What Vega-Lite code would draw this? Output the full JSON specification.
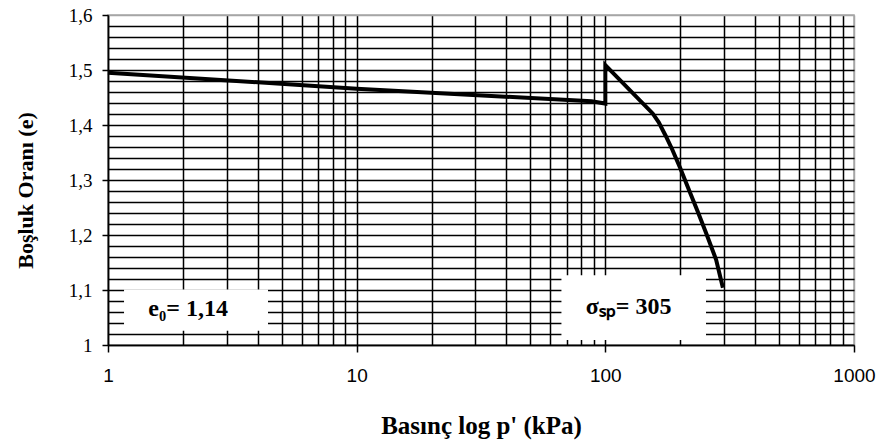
{
  "$schema": "https://vega.github.io/schema/vega-lite/v6.json",
  "width": 746,
  "height": 330,
  "autosize": "none",
  "padding": {"left": 108, "top": 15, "right": 25, "bottom": 101},
  "background": "white",
  "config": {"view": {"stroke": "#a6a6a6", "strokeWidth": 1.5}},
  "datasets": {
    "curve": [
      {"i": 0, "p": 1, "e": 1.495},
      {"i": 1, "p": 10, "e": 1.466},
      {"i": 2, "p": 88, "e": 1.443},
      {"i": 3, "p": 100, "e": 1.439},
      {"i": 4, "p": 100, "e": 1.509},
      {"i": 5, "p": 155, "e": 1.421},
      {"i": 6, "p": 164, "e": 1.405},
      {"i": 7, "p": 175, "e": 1.38},
      {"i": 8, "p": 186, "e": 1.355},
      {"i": 9, "p": 200, "e": 1.322},
      {"i": 10, "p": 217, "e": 1.282},
      {"i": 11, "p": 235, "e": 1.243},
      {"i": 12, "p": 254, "e": 1.204},
      {"i": 13, "p": 279, "e": 1.155},
      {"i": 14, "p": 297, "e": 1.104}
    ],
    "boxes": [
      {"p": 1.16, "p2": 4.4, "e": 1.026, "e2": 1.101},
      {"p": 66.6, "p2": 254, "e": 1.009, "e2": 1.127}
    ],
    "notes": [
      {"p": 2.1, "e": 1.065, "label": "e₀= 1,14"},
      {"p": 124, "e": 1.069, "label": "σₛₚ= 305"}
    ]
  },
  "encoding": {
    "x": {
      "field": "p",
      "type": "quantitative",
      "scale": {"type": "log", "domain": [1, 1000], "nice": false},
      "axis": {
        "title": "Basınç log p' (kPa)",
        "values": [1, 2, 3, 4, 5, 6, 7, 8, 9, 10, 20, 30, 40, 50, 60, 70, 80, 90, 100, 200, 300, 400, 500, 600, 700, 800, 900, 1000],
        "grid": true,
        "gridColor": {"condition": {"test": "datum.value >= 999", "value": "#a6a6a6"}, "value": "black"},
        "gridWidth": 1.5,
        "domainColor": "black",
        "domainWidth": 1.5,
        "tickColor": "black",
        "tickWidth": 1.5,
        "tickSize": 7,
        "tickOpacity": {"condition": {"test": "abs(log(datum.value)/LN10 - round(log(datum.value)/LN10)) < 0.001", "value": 1}, "value": 0},
        "labelExpr": "abs(log(datum.value)/LN10 - round(log(datum.value)/LN10)) < 0.001 ? format(datum.value, 'd') : ''",
        "labelOverlap": false,
        "labelFlush": false,
        "labelFont": "Liberation Sans",
        "labelFontSize": 19,
        "labelColor": "black",
        "labelPadding": 14,
        "titleFont": "Liberation Serif",
        "titleFontSize": 25,
        "titleFontWeight": "bold",
        "titleColor": "black",
        "titleY": 88,
        "titleBaseline": "alphabetic"
      }
    },
    "y": {
      "field": "e",
      "type": "quantitative",
      "scale": {"domain": [1, 1.6], "nice": false, "zero": false},
      "axis": {
        "title": "Boşluk Oranı (e)",
        "values": [1, 1.02, 1.04, 1.06, 1.08, 1.1, 1.12, 1.14, 1.16, 1.18, 1.2, 1.22, 1.24, 1.26, 1.28, 1.3, 1.32, 1.34, 1.36, 1.38, 1.4, 1.42, 1.44, 1.46, 1.48, 1.5, 1.52, 1.54, 1.56, 1.58, 1.6],
        "grid": true,
        "gridColor": {"condition": {"test": "datum.value >= 1.599", "value": "#a6a6a6"}, "value": "black"},
        "gridWidth": 1.5,
        "domainColor": "black",
        "domainWidth": 1.5,
        "tickColor": "black",
        "tickWidth": 1.5,
        "tickSize": 6,
        "tickOpacity": {"condition": {"test": "abs(datum.value*10 - round(datum.value*10)) < 0.001", "value": 1}, "value": 0},
        "labelExpr": "abs(datum.value*10 - round(datum.value*10)) < 0.001 ? replace(format(datum.value, '.1~f'), '.', ',') : ''",
        "labelOverlap": false,
        "labelFlush": false,
        "labelFont": "Liberation Serif",
        "labelFontSize": 19,
        "labelColor": "black",
        "labelPadding": 10,
        "titleFont": "Liberation Serif",
        "titleFontSize": 22,
        "titleFontWeight": "bold",
        "titleColor": "black",
        "titleX": -76,
        "titleY": 175,
        "titleBaseline": "alphabetic"
      }
    }
  },
  "layer": [
    {
      "data": {"name": "boxes"},
      "mark": {"type": "rect", "fill": "white", "stroke": null},
      "encoding": {
        "x2": {"field": "p2"},
        "y2": {"field": "e2"}
      }
    },
    {
      "data": {"name": "notes"},
      "mark": {"type": "text", "font": "Liberation Serif", "fontWeight": "bold", "fontSize": 24, "color": "black", "align": "center", "baseline": "middle"},
      "encoding": {
        "text": {"field": "label"}
      }
    },
    {
      "data": {"name": "curve"},
      "mark": {"type": "line", "color": "black", "strokeWidth": 4, "strokeJoin": "miter"},
      "encoding": {
        "order": {"field": "i", "type": "quantitative"}
      }
    }
  ]
}
